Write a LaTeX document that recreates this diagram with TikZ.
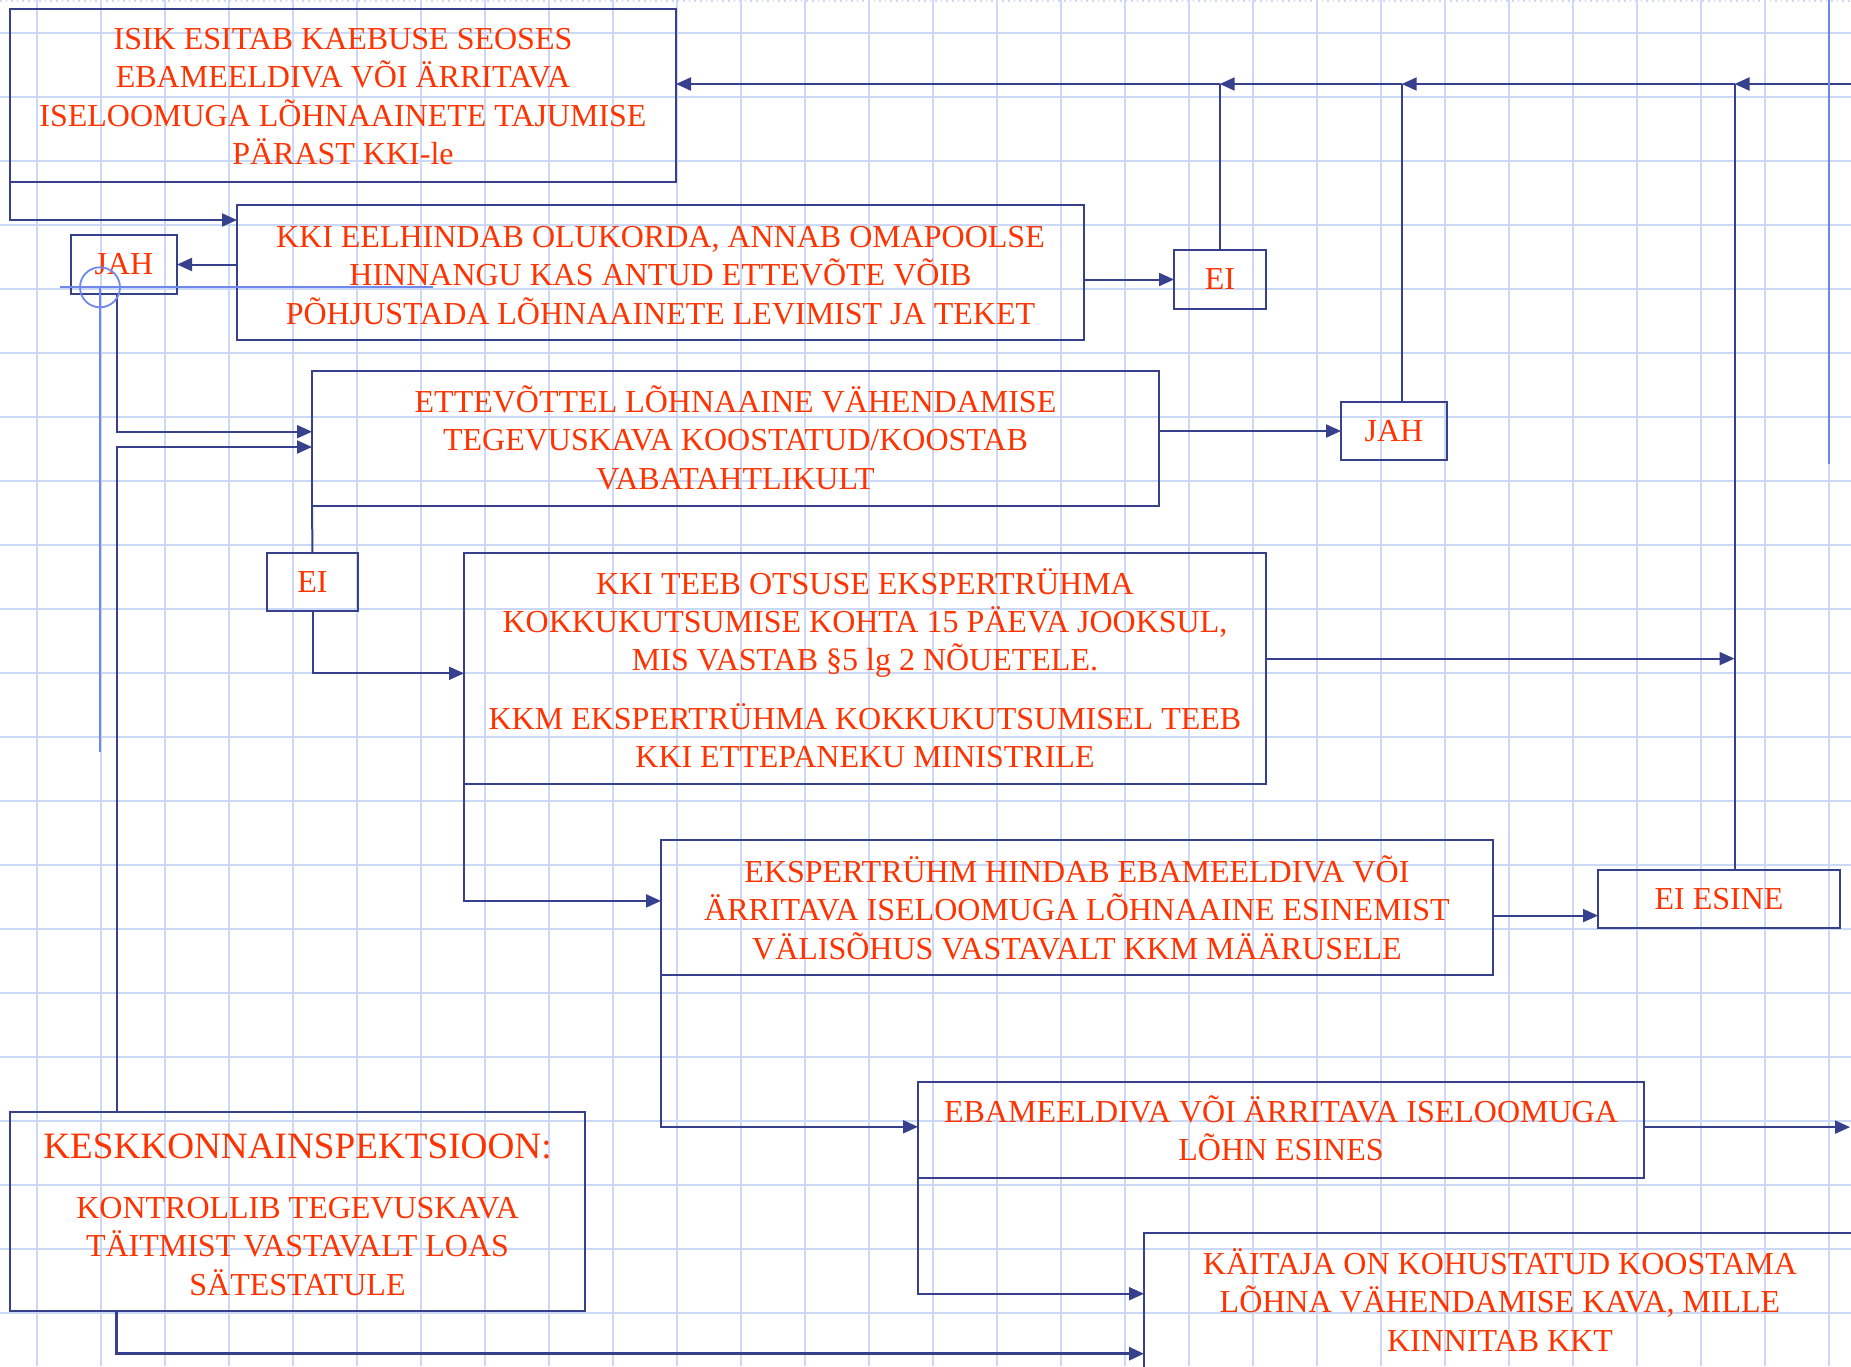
\documentclass[tikz,border=0pt]{standalone}
\usepackage{fontspec}
\setmainfont{Liberation Serif}
\usetikzlibrary{arrows.meta}
\definecolor{navy}{RGB}{55,64,140}
\definecolor{txt}{RGB}{255,51,0}
\definecolor{gridc}{RGB}{204,217,246}
\definecolor{hilite}{RGB}{112,136,238}
\begin{document}
\begin{tikzpicture}[x=0.5pt,y=-0.5pt,
  box/.style={draw=navy,line width=1pt,inner sep=0pt,outer sep=0pt,rectangle,text=txt,font=\fontsize{16}{19.15}\selectfont},
  lbl/.style={text=txt,font=\fontsize{16}{19.15}\selectfont,align=center,inner sep=0pt,anchor=base},
  conn/.style={draw=navy,line width=1pt},
  arr/.style={conn,-{Triangle[length=7.5pt,width=6.5pt]}},
  gridline/.style={draw=gridc,line width=1pt},
  hl/.style={draw=hilite,line width=0.9pt},
]
\useasboundingbox (0,0) rectangle (1851,1366);
\clip (0,0) rectangle (1851,1366);
\fill[white] (0,0) rectangle (1851,1366);
% grid
\foreach \k in {0,...,28} \draw[gridline] ({36.9+64*\k},0) -- ({36.9+64*\k},1366);
\foreach \k in {0,...,20} \draw[gridline] (0,{32.7+64*\k}) -- (1851,{32.7+64*\k});
\draw[gridc,line width=0.8pt,dotted] (0,1) -- (1851,1);

% boxes
\node[box,minimum width=333pt,minimum height=86.5pt] (b1) at (343,95.5) {};
\node[box,minimum width=423.5pt,minimum height=67.5pt] (b2) at (660.5,272.5) {};
\node[box,minimum width=53pt,minimum height=29.5pt] (jah1) at (124,264.5) {JAH};
\node[box,minimum width=46pt,minimum height=29.5pt] (ei1) at (1220,279.5) {EI};
\node[box,minimum width=423.5pt,minimum height=67.5pt] (b3) at (735.5,438.5) {};
\node[box,minimum width=53pt,minimum height=29pt] (jah2) at (1394,431) {JAH};
\node[box,minimum width=45.5pt,minimum height=29pt] (ei2) at (312.5,582) {EI};
\node[box,minimum width=401pt,minimum height=115.5pt] (b4) at (865,668.5) {};
\node[box,minimum width=416pt,minimum height=67.5pt] (b5) at (1077,907.5) {};
\node[box,minimum width=121pt,minimum height=29pt] (eiesine) at (1719,899) {EI ESINE};
\node[box,minimum width=363pt,minimum height=48pt] (b6) at (1281,1130) {};
\node[box,minimum width=450pt,minimum height=150pt] (b7) at (1594,1383) {};
\node[box,minimum width=287.5pt,minimum height=99.5pt] (b8) at (297.5,1211.5) {};

% texts (anchor=base is the baseline of the last line)
\node[lbl] (t1) at (343,164.3) {ISIK ESITAB KAEBUSE SEOSES\\EBAMEELDIVA VÕI ÄRRITAVA\\ISELOOMUGA LÕHNAAINETE TAJUMISE\\PÄRAST KKI-le};
\node[lbl] (t2) at (660.5,324) {KKI EELHINDAB OLUKORDA, ANNAB OMAPOOLSE\\HINNANGU KAS ANTUD ETTEVÕTE VÕIB\\PÕHJUSTADA LÕHNAAINETE LEVIMIST JA TEKET};
\node[lbl] (t3) at (735.5,489) {ETTEVÕTTEL LÕHNAAINE VÄHENDAMISE\\TEGEVUSKAVA KOOSTATUD/KOOSTAB\\VABATAHTLIKULT};
\node[lbl] (t4) at (865,767.8) {KKI TEEB OTSUSE EKSPERTRÜHMA\\KOKKUKUTSUMISE KOHTA 15 PÄEVA JOOKSUL,\\MIS VASTAB §5 lg 2 NÕUETELE.\\[10.3pt]KKM EKSPERTRÜHMA KOKKUKUTSUMISEL TEEB\\KKI ETTEPANEKU MINISTRILE};
\node[lbl] (t5) at (1077,959) {EKSPERTRÜHM HINDAB EBAMEELDIVA VÕI\\ÄRRITAVA ISELOOMUGA LÕHNAAINE ESINEMIST\\VÄLISÕHUS VASTAVALT KKM MÄÄRUSELE};
\node[lbl] (t6) at (1281,1160.8) {EBAMEELDIVA VÕI ÄRRITAVA ISELOOMUGA\\LÕHN ESINES};
\node[lbl] (t7) at (1500,1351) {KÄITAJA ON KOHUSTATUD KOOSTAMA\\LÕHNA VÄHENDAMISE KAVA, MILLE\\KINNITAB KKT};
\node[lbl,font=\fontsize{18.6}{22}\selectfont] (t8a) at (297.5,1158.3) {KESKKONNAINSPEKTSIOON:};
\node[lbl] (t8b) at (297.5,1295) {KONTROLLIB TEGEVUSKAVA\\TÄITMIST VASTAVALT LOAS\\SÄTESTATULE};

% coordinates
\coordinate (redge) at (1851,84);
\coordinate (j3) at (1734.5,84);
\coordinate (j2) at (1401.7,84);
\coordinate (j1) at (1219.7,84);
\coordinate (lvA) at (0,220);
\coordinate (lx) at (116.7,0);
\coordinate (lvB) at (0,431.7);
\coordinate (lvC) at (0,447);
\coordinate (lvD) at (0,673.3);
\coordinate (lvE) at (0,900.9);
\coordinate (lvF) at (0,658.6);
\coordinate (lvG) at (0,915.6);
\coordinate (lvH) at (0,1126.8);
\coordinate (lvI) at (1850,1127.1);
\coordinate (lvJ) at (0,1293.7);
\coordinate (lvK) at (0,1353.7);

% connectors
\draw[arr] (redge) -- (j3);
\draw[arr] (j3) -- (j2);
\draw[arr] (j2) -- (j1);
\draw[arr] (j1) -- (b1.east |- j1);
\draw[conn] (j3 |- eiesine.north) -- (j3);
\draw[conn] (j2 |- jah2.north) -- (j2);
\draw[conn] (ei1.north) -- (ei1.north |- j1);
\draw[arr] (b1.south west) |- (b2.west |- lvA);
\draw[arr] (b2.west |- jah1.east) -- (jah1.east);
\draw[arr] (b2.east |- ei1.west) -- (ei1.west);
\draw[arr] (jah1.south -| lx) |- (b3.west |- lvB);
\draw[arr] (b8.north -| lx) |- (b3.west |- lvC);
\draw[conn] (b3.south west) -- (ei2.north);
\draw[arr] (ei2.south) |- (b4.west |- lvD);
\draw[arr] (b3.east |- jah2.west) -- (jah2.west);
\draw[arr] (b4.south west) |- (b5.west |- lvE);
\draw[arr] (b4.east |- lvF) -- (j3 |- lvF);
\draw[arr] (b5.east |- lvG) -- (eiesine.west |- lvG);
\draw[arr] (b5.south west) |- (b6.west |- lvH);
\draw[arr] (b6.east |- lvI) -- (lvI);
\draw[arr] (b6.south west) |- (b7.west |- lvJ);
\draw[arr,line width=1.5pt] (b8.south -| lx) |- (b7.west |- lvK);

% highlighted guide lines
\draw[hl] (60,287.3) -- (433,287.3);
\draw[hl] (100,287.3) circle[radius=10pt];
\draw[hl] (100,287.3) -- (100,752);
\draw[hl] (1829,0) -- (1829,464);
\end{tikzpicture}
\end{document}
